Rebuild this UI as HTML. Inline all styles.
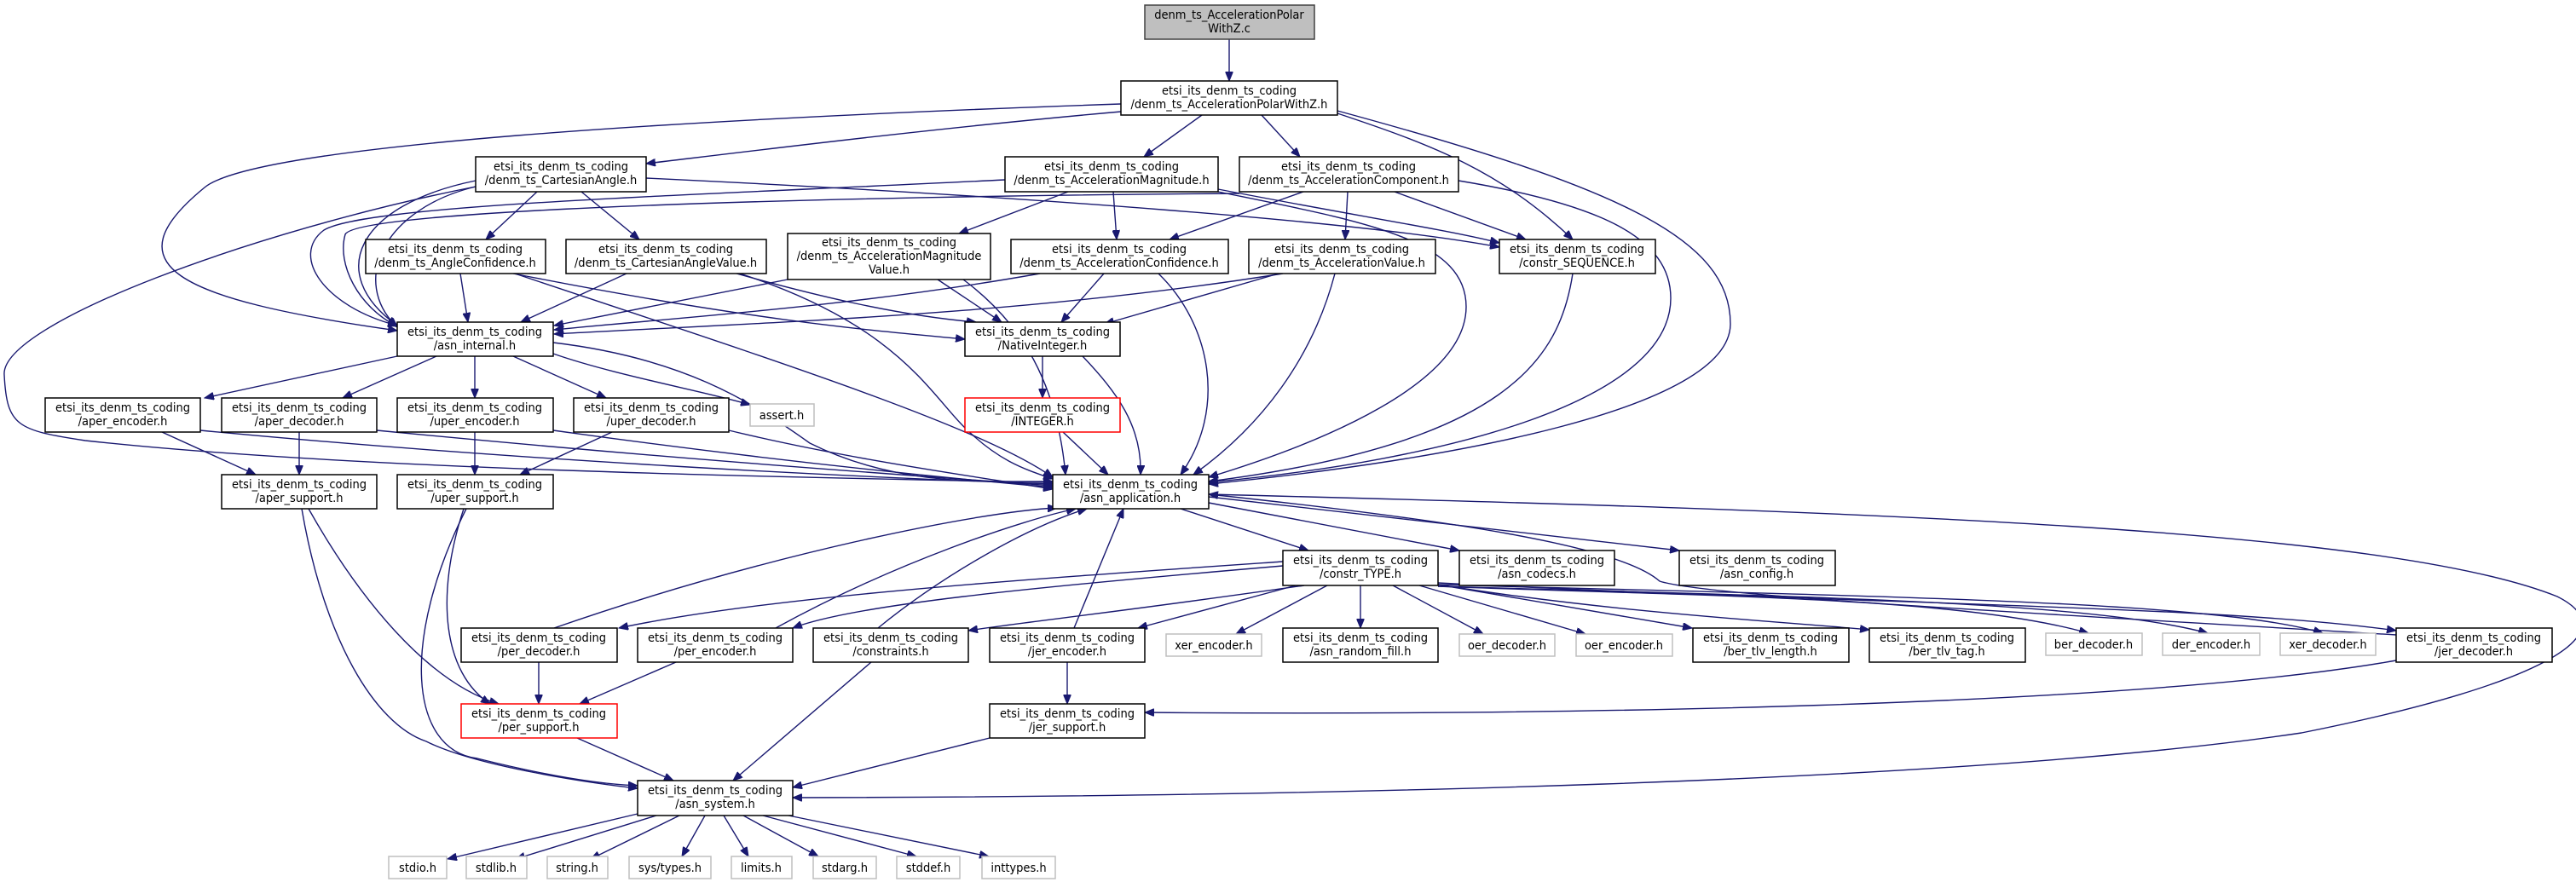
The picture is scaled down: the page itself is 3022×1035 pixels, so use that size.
<!DOCTYPE html>
<html><head><meta charset="utf-8"><style>
html,body{margin:0;padding:0;background:#fff;}
svg{display:block}
text{font-family:"DejaVu Sans Condensed","DejaVu Sans","Liberation Sans",sans-serif;font-stretch:condensed;font-size:14.5px;fill:#000;text-anchor:middle}
.e{fill:none;stroke:#191970;stroke-width:1.4;marker-end:url(#a)}
.n{fill:#fff;stroke:#000;stroke-width:1.5}
.g{fill:#fff;stroke:#bfbfbf;stroke-width:1.5}
.r{fill:#fff;stroke:#ff0000;stroke-width:1.5}
</style></head><body>
<svg width="3022" height="1035" viewBox="0 0 3022 1035" xmlns="http://www.w3.org/2000/svg">
<defs><marker id="a" markerUnits="userSpaceOnUse" markerWidth="12" markerHeight="9" refX="11" refY="4.5" orient="auto"><path d="M0,0 L11,4.5 L0,9 z" fill="#191970" stroke="#191970"/></marker></defs>

<!-- edges -->
<path class="e" d="M1442,46 L1442,95"/>
<path class="e" d="M1315,131 C1100,150 900,175 758,192"/>
<path class="e" d="M1410,135 L1342,184"/>
<path class="e" d="M1480,135 L1525,184"/>
<path class="e" d="M1569,133 C1680,170 1760,200 1845,281"/>
<path class="e" d="M1569,130 C1900,220 2030,280 2030,380 C2030,480 1700,540 1418,568"/>
<path class="e" d="M1315,122 C800,140 300,170 240,220 C130,310 200,350 466,388"/>
<path class="e" d="M558,212 C420,240 380,320 466,382"/>
<path class="e" d="M558,219 C450,245 410,330 466,384"/>
<path class="e" d="M558,219 C300,270 0,380 5,440 C8,500 20,505 100,517 C400,550 900,560 1235,566"/>
<path class="e" d="M630,225 L570,281"/>
<path class="e" d="M682,225 L750,281"/>
<path class="e" d="M758,209 C1200,230 1600,260 1759,290"/>
<path class="e" d="M1179,211 C800,230 430,240 380,270 C340,300 380,360 466,382"/>
<path class="e" d="M1454,227 C1000,230 420,245 405,275 C395,310 420,360 466,383"/>
<path class="e" d="M1253,225 L1125,274"/>
<path class="e" d="M1306,225 L1310,281"/>
<path class="e" d="M1429,222 C1600,255 1700,270 1759,285"/>
<path class="e" d="M1429,225 C1600,260 1720,280 1720,360 C1720,450 1550,520 1418,560"/>
<path class="e" d="M1529,225 L1372,281"/>
<path class="e" d="M1581,225 L1578,281"/>
<path class="e" d="M1636,225 L1790,281"/>
<path class="e" d="M1711,212 C1880,240 1960,280 1960,350 C1960,470 1700,540 1418,566"/>
<path class="e" d="M540,321 L549,378"/>
<path class="e" d="M602,321 C900,380 1050,390 1132,398"/>
<path class="e" d="M604,321 C900,420 1150,500 1235,560"/>
<path class="e" d="M735,321 L611,378"/>
<path class="e" d="M864,321 C950,345 1050,370 1145,378"/>
<path class="e" d="M868,321 C1050,380 1090,460 1130,500 C1170,540 1200,550 1235,562"/>
<path class="e" d="M924,328 L650,382"/>
<path class="e" d="M1100,328 L1175,378"/>
<path class="e" d="M1130,328 C1200,380 1240,450 1250,557"/>
<path class="e" d="M1220,321 C1000,360 800,372 650,387"/>
<path class="e" d="M1295,321 L1245,378"/>
<path class="e" d="M1359,321 C1420,380 1440,480 1385,557"/>
<path class="e" d="M1505,321 C1200,370 900,378 650,392"/>
<path class="e" d="M1500,321 L1296,380"/>
<path class="e" d="M1566,321 C1540,420 1480,500 1400,557"/>
<path class="e" d="M1845,321 C1830,420 1770,520 1418,565"/>
<path class="e" d="M1223,418 L1223,467"/>
<path class="e" d="M1270,418 C1310,460 1340,500 1338,557"/>
<path class="e" d="M1247,507 L1300,557"/>
<path class="e" d="M466,418 L240,467"/>
<path class="e" d="M512,418 L402,467"/>
<path class="e" d="M557,418 L557,467"/>
<path class="e" d="M602,418 L711,467"/>
<path class="e" d="M649,415 C720,440 830,460 880,475"/>
<path class="e" d="M649,402 C800,420 880,470 950,520 C1050,570 1150,565 1235,565"/>
<path class="e" d="M190,507 L300,557"/>
<path class="e" d="M235,505 C600,540 1000,560 1235,568"/>
<path class="e" d="M351,507 L351,557"/>
<path class="e" d="M442,505 C800,540 1100,560 1235,570"/>
<path class="e" d="M557,507 L557,557"/>
<path class="e" d="M649,505 C900,540 1100,560 1235,572"/>
<path class="e" d="M718,507 L610,557"/>
<path class="e" d="M855,505 C1000,540 1150,560 1235,574"/>
<path class="e" d="M362,597 C420,700 500,800 585,826"/>
<path class="e" d="M354,597 C380,750 440,850 500,870 C560,900 700,920 748,925"/>
<path class="e" d="M544,597 C510,700 520,790 575,826"/>
<path class="e" d="M547,597 C470,750 480,880 560,890 C640,910 700,920 748,922"/>
<path class="e" d="M677,866 L790,916"/>
<path class="e" d="M632,777 L632,826"/>
<path class="e" d="M793,777 L680,826"/>
<path class="e" d="M1022,777 L860,916"/>
<path class="e" d="M1161,866 L930,924"/>
<path class="e" d="M1418,580 C2200,600 2800,620 3000,700 C3080,740 3000,800 2700,860 C2300,920 1500,935 930,936"/>
<path class="e" d="M2811,775 C2500,830 1800,840 1343,836"/>
<path class="e" d="M1385,597 L1535,646"/>
<path class="e" d="M1418,590 L1712,646"/>
<path class="e" d="M1418,583 L1970,646"/>
<path class="e" d="M2811,745 C2400,720 2000,700 1947,682 C1900,640 1700,610 1418,580"/>
<path class="e" d="M1505,659 C1200,680 900,700 726,737"/>
<path class="e" d="M1505,664 C1200,690 1000,710 930,737"/>
<path class="e" d="M1530,687 C1300,720 1200,730 1136,740"/>
<path class="e" d="M1520,687 L1335,737"/>
<path class="e" d="M1557,687 L1450,744"/>
<path class="e" d="M1596,687 L1596,737"/>
<path class="e" d="M1634,687 L1740,744"/>
<path class="e" d="M1665,687 L1860,744"/>
<path class="e" d="M1687,686 L1985,737"/>
<path class="e" d="M1687,686 C1900,720 2100,730 2193,739"/>
<path class="e" d="M1687,688 C2000,700 2300,700 2450,743"/>
<path class="e" d="M1687,688 C2100,700 2450,705 2590,743"/>
<path class="e" d="M1687,686 C2200,700 2600,705 2725,743"/>
<path class="e" d="M1687,684 C2200,710 2600,710 2811,740"/>
<path class="e" d="M650,737 C900,650 1150,600 1240,596"/>
<path class="e" d="M910,737 C1050,660 1200,610 1262,597"/>
<path class="e" d="M1030,737 C1100,680 1200,620 1275,597"/>
<path class="e" d="M1260,737 L1318,597"/>
<path class="e" d="M1252,777 L1252,826"/>
<path class="e" d="M748,955 L525,1008"/>
<path class="e" d="M770,957 L605,1008"/>
<path class="e" d="M797,957 L693,1008"/>
<path class="e" d="M827,957 L800,1005"/>
<path class="e" d="M849,957 L878,1005"/>
<path class="e" d="M872,957 L960,1005"/>
<path class="e" d="M895,957 L1075,1005"/>
<path class="e" d="M925,957 L1160,1005"/>

<!-- nodes -->
<rect x="1343" y="6" width="199" height="40" fill="#bfbfbf" stroke="#404040" stroke-width="1.5"/><text x="1442" y="22">denm_ts_AccelerationPolar</text><text x="1442" y="38">WithZ.c</text>
<g>
<rect class="n" x="1315" y="95" width="254" height="40"/><text x="1442" y="111">etsi_its_denm_ts_coding</text><text x="1442" y="127">/denm_ts_AccelerationPolarWithZ.h</text>
<rect class="n" x="558" y="184" width="200" height="41"/><text x="658" y="200">etsi_its_denm_ts_coding</text><text x="658" y="216">/denm_ts_CartesianAngle.h</text>
<rect class="n" x="1179" y="184" width="250" height="41"/><text x="1304" y="200">etsi_its_denm_ts_coding</text><text x="1304" y="216">/denm_ts_AccelerationMagnitude.h</text>
<rect class="n" x="1454" y="184" width="257" height="41"/><text x="1582" y="200">etsi_its_denm_ts_coding</text><text x="1582" y="216">/denm_ts_AccelerationComponent.h</text>
<rect class="n" x="429" y="281" width="211" height="40"/><text x="534" y="297">etsi_its_denm_ts_coding</text><text x="534" y="313">/denm_ts_AngleConfidence.h</text>
<rect class="n" x="664" y="281" width="235" height="40"/><text x="781" y="297">etsi_its_denm_ts_coding</text><text x="781" y="313">/denm_ts_CartesianAngleValue.h</text>
<rect class="n" x="924" y="274" width="238" height="54"/><text x="1043" y="289">etsi_its_denm_ts_coding</text><text x="1043" y="305">/denm_ts_AccelerationMagnitude</text><text x="1043" y="321">Value.h</text>
<rect class="n" x="1186" y="281" width="255" height="40"/><text x="1313" y="297">etsi_its_denm_ts_coding</text><text x="1313" y="313">/denm_ts_AccelerationConfidence.h</text>
<rect class="n" x="1465" y="281" width="219" height="40"/><text x="1574" y="297">etsi_its_denm_ts_coding</text><text x="1574" y="313">/denm_ts_AccelerationValue.h</text>
<rect class="n" x="1759" y="281" width="183" height="40"/><text x="1850" y="297">etsi_its_denm_ts_coding</text><text x="1850" y="313">/constr_SEQUENCE.h</text>
<rect class="n" x="466" y="378" width="183" height="40"/><text x="557" y="394">etsi_its_denm_ts_coding</text><text x="557" y="410">/asn_internal.h</text>
<rect class="n" x="1132" y="378" width="182" height="40"/><text x="1223" y="394">etsi_its_denm_ts_coding</text><text x="1223" y="410">/NativeInteger.h</text>
<rect class="r" x="1132" y="467" width="182" height="40"/><text x="1223" y="483">etsi_its_denm_ts_coding</text><text x="1223" y="499">/INTEGER.h</text>
<rect class="n" x="53" y="467" width="182" height="40"/><text x="144" y="483">etsi_its_denm_ts_coding</text><text x="144" y="499">/aper_encoder.h</text>
<rect class="n" x="260" y="467" width="182" height="40"/><text x="351" y="483">etsi_its_denm_ts_coding</text><text x="351" y="499">/aper_decoder.h</text>
<rect class="n" x="466" y="467" width="183" height="40"/><text x="557" y="483">etsi_its_denm_ts_coding</text><text x="557" y="499">/uper_encoder.h</text>
<rect class="n" x="673" y="467" width="182" height="40"/><text x="764" y="483">etsi_its_denm_ts_coding</text><text x="764" y="499">/uper_decoder.h</text>
<rect class="g" x="880" y="474" width="75" height="26"/><text x="917" y="492">assert.h</text>
<rect class="n" x="1235" y="557" width="183" height="40"/><text x="1326" y="573">etsi_its_denm_ts_coding</text><text x="1326" y="589">/asn_application.h</text>
<rect class="n" x="260" y="557" width="182" height="40"/><text x="351" y="573">etsi_its_denm_ts_coding</text><text x="351" y="589">/aper_support.h</text>
<rect class="n" x="466" y="557" width="183" height="40"/><text x="557" y="573">etsi_its_denm_ts_coding</text><text x="557" y="589">/uper_support.h</text>
<rect class="n" x="1505" y="646" width="182" height="41"/><text x="1596" y="662">etsi_its_denm_ts_coding</text><text x="1596" y="678">/constr_TYPE.h</text>
<rect class="n" x="1712" y="646" width="182" height="41"/><text x="1803" y="662">etsi_its_denm_ts_coding</text><text x="1803" y="678">/asn_codecs.h</text>
<rect class="n" x="1970" y="646" width="183" height="41"/><text x="2061" y="662">etsi_its_denm_ts_coding</text><text x="2061" y="678">/asn_config.h</text>
<rect class="n" x="541" y="737" width="183" height="40"/><text x="632" y="753">etsi_its_denm_ts_coding</text><text x="632" y="769">/per_decoder.h</text>
<rect class="n" x="748" y="737" width="182" height="40"/><text x="839" y="753">etsi_its_denm_ts_coding</text><text x="839" y="769">/per_encoder.h</text>
<rect class="n" x="954" y="737" width="182" height="40"/><text x="1045" y="753">etsi_its_denm_ts_coding</text><text x="1045" y="769">/constraints.h</text>
<rect class="n" x="1161" y="737" width="182" height="40"/><text x="1252" y="753">etsi_its_denm_ts_coding</text><text x="1252" y="769">/jer_encoder.h</text>
<rect class="g" x="1368" y="744" width="112" height="26"/><text x="1424" y="762">xer_encoder.h</text>
<rect class="n" x="1505" y="737" width="182" height="40"/><text x="1596" y="753">etsi_its_denm_ts_coding</text><text x="1596" y="769">/asn_random_fill.h</text>
<rect class="g" x="1712" y="744" width="112" height="26"/><text x="1768" y="762">oer_decoder.h</text>
<rect class="g" x="1849" y="744" width="113" height="26"/><text x="1905" y="762">oer_encoder.h</text>
<rect class="n" x="1986" y="737" width="183" height="40"/><text x="2077" y="753">etsi_its_denm_ts_coding</text><text x="2077" y="769">/ber_tlv_length.h</text>
<rect class="n" x="2193" y="737" width="183" height="40"/><text x="2284" y="753">etsi_its_denm_ts_coding</text><text x="2284" y="769">/ber_tlv_tag.h</text>
<rect class="g" x="2400" y="743" width="113" height="26"/><text x="2456" y="761">ber_decoder.h</text>
<rect class="g" x="2537" y="743" width="114" height="26"/><text x="2594" y="761">der_encoder.h</text>
<rect class="g" x="2675" y="743" width="112" height="26"/><text x="2731" y="761">xer_decoder.h</text>
<rect class="n" x="2811" y="737" width="183" height="40"/><text x="2902" y="753">etsi_its_denm_ts_coding</text><text x="2902" y="769">/jer_decoder.h</text>
<rect class="r" x="541" y="826" width="183" height="40"/><text x="632" y="842">etsi_its_denm_ts_coding</text><text x="632" y="858">/per_support.h</text>
<rect class="n" x="1161" y="826" width="182" height="40"/><text x="1252" y="842">etsi_its_denm_ts_coding</text><text x="1252" y="858">/jer_support.h</text>
<rect class="n" x="748" y="916" width="182" height="41"/><text x="839" y="932">etsi_its_denm_ts_coding</text><text x="839" y="948">/asn_system.h</text>
<rect class="g" x="456" y="1005" width="68" height="26"/><text x="490" y="1023">stdio.h</text>
<rect class="g" x="547" y="1005" width="71" height="26"/><text x="582" y="1023">stdlib.h</text>
<rect class="g" x="642" y="1005" width="71" height="26"/><text x="677" y="1023">string.h</text>
<rect class="g" x="738" y="1005" width="96" height="26"/><text x="786" y="1023">sys/types.h</text>
<rect class="g" x="858" y="1005" width="71" height="26"/><text x="893" y="1023">limits.h</text>
<rect class="g" x="954" y="1005" width="74" height="26"/><text x="991" y="1023">stdarg.h</text>
<rect class="g" x="1052" y="1005" width="74" height="26"/><text x="1089" y="1023">stddef.h</text>
<rect class="g" x="1152" y="1005" width="86" height="26"/><text x="1195" y="1023">inttypes.h</text>
</g>
</svg>
</body></html>
